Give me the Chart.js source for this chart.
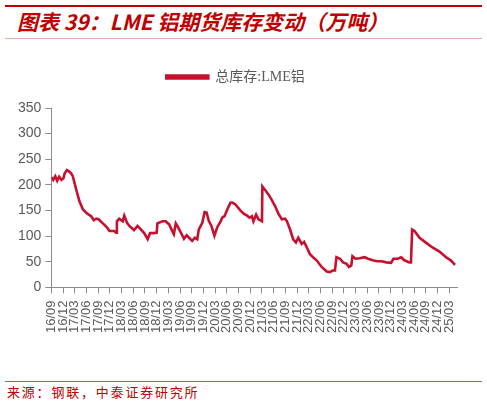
<!DOCTYPE html>
<html>
<head>
<meta charset="utf-8">
<script src="https://cdn.jsdelivr.net/npm/chart.js@4.4.1/dist/chart.umd.min.js"></script>
<style>
  html, body { margin: 0; padding: 0; background: #ffffff; }
  body { width: 487px; height: 404px; position: relative; overflow: hidden; }
  .topbar { position: absolute; left: 5px; top: 5px; width: 477px; height: 2px; background: #c00000; }
  .title { position: absolute; left: 17px; top: 9px; font-family: "Noto Sans CJK SC", sans-serif; font-weight: bold; font-style: italic; font-size: 21px; line-height: 25px; color: #c00000; white-space: nowrap; }
  .titleline { position: absolute; left: 5px; top: 38px; width: 477px; height: 1px; background: #e8a8a8; }
  .srcline { position: absolute; left: 5px; top: 381px; width: 477px; height: 1px; background: #d85050; }
  .source { position: absolute; left: 7px; top: 384px; font-family: "Noto Sans CJK SC", sans-serif; font-size: 13px; line-height: 16px; letter-spacing: 1.8px; color: #c00000; white-space: nowrap; }
  .wrap { position: absolute; left: 0; top: 40px; width: 487px; height: 310px; }
</style>
</head>
<body>
<div class="topbar"></div>
<div class="title">图表 39：LME 铝期货库存变动（万吨）</div>
<div class="titleline"></div>
<div class="wrap"><canvas id="c"></canvas></div>
<div class="srcline"></div>
<div class="source">来源：钢联，中泰证券研究所</div>
<script>
// months since 2016/09
const monthIdx = [0,0.5,1.0,1.5,2.0,2.6,3.1,3.4,4.0,4.6,5.1,5.5,6.4,7.2,8.1,9.2,10.2,10.9,11.5,12.1,13.2,14.3,14.9,16.1,16.6,16.8,17.4,18.3,18.7,19.4,20.0,21.2,22.1,23.0,23.8,24.7,25.3,26.3,27.0,27.2,28.5,29.3,30.2,31.0,31.4,31.9,32.3,33.2,34.0,34.7,35.3,36.1,36.8,37.4,37.8,38.7,39.3,39.8,40.4,41.0,41.8,42.5,43.4,43.8,44.4,45.1,45.9,46.3,47.2,48.5,49.3,50.2,50.8,51.4,51.8,52.5,53.1,54.0,54.1,54.8,55.7,56.5,57.4,58.2,59.1,59.9,60.4,61.2,62.0,62.7,63.3,64.2,64.8,65.5,66.3,67.1,68.0,69.3,70.6,71.4,72.1,72.7,73.1,74.0,74.8,75.7,76.3,76.9,77.2,78.0,79.1,80.3,81.2,82.4,83.5,84.6,85.9,87.1,87.7,88.8,89.7,90.5,91.8,92.2,92.5,93.1,94.4,96.1,97.7,99.5,101.2,102.4,103.5];
// total stock, 10k tonnes
const stockWan = [215,210,217,208,216,210,213,222,229,226,222,217,190,168,152,144,139,131,134,133,125,117,110,110,107,129,134,129,140,126,120,112,120,113,106,94,106,106,107,125,129,129,123,110,104,125,120,107,95,102,97,91,97,94,113,126,147,146,129,121,101,117,129,136,139,152,165,166,162,150,144,140,136,139,129,142,133,129,197,190,181,171,158,144,133,134,129,113,94,88,97,85,89,78,65,59,53,40,31,30,33,33,59,56,49,46,40,43,61,56,57,59,56,53,51,51,49,48,56,56,59,53,49,49,113,110,97,87,78,70,59,53,44];
const tickLabels = ['16/09','16/12','17/03','17/06','17/09','17/12','18/03','18/06','18/09','18/12','19/03','19/06','19/09','19/12','20/03','20/06','20/09','20/12','21/03','21/06','21/09','21/12','22/03','22/06','22/09','22/12','23/03','23/06','23/09','23/12','24/03','24/06','24/09','24/12','25/03'];
const seriesName = '总库存:LME铝';

const points = monthIdx.map((m, i) => ({ x: m, y: stockWan[i] }));
const RED = '#c8102e';
const AXIS = '#8c8c8c';
const TXT = '#595959';

const legendSpace = {
  id: 'legendSpace',
  beforeInit(chart) {
    const orig = chart.legend.fit;
    chart.legend.fit = function () { orig.call(this); this.height += 14; };
  }
};

new Chart(document.getElementById('c'), {
  type: 'line',
  data: { datasets: [{ label: seriesName, data: points, borderColor: RED, backgroundColor: RED, borderWidth: 2.6, pointRadius: 0, tension: 0 }] },
  options: {
    responsive: true, maintainAspectRatio: false, animation: false,
    layout: { padding: { left: 14, right: 30, top: 20, bottom: 10 } },
    plugins: {
      legend: { position: 'top', labels: { boxWidth: 42, boxHeight: 3, color: TXT, font: { size: 14, family: '"Liberation Serif", "Noto Sans CJK SC", serif' } } },
      tooltip: { enabled: false }
    },
    scales: {
      x: {
        type: 'linear', min: 0, max: 104,
        grid: { display: true, drawOnChartArea: false, drawTicks: true, tickLength: 6, color: AXIS },
        border: { color: AXIS, width: 1 },
        ticks: { stepSize: 3, autoSkip: false, includeBounds: false, minRotation: 90, maxRotation: 90, padding: 7, color: TXT, font: { size: 13, family: '"Liberation Sans", Arial, sans-serif' },
          callback: (v) => { const k = Math.round(v / 3); return (Math.abs(v - k * 3) < 1e-6 && tickLabels[k]) ? tickLabels[k] : ''; } }
      },
      y: {
        min: 0, max: 350,
        grid: { display: true, drawOnChartArea: false, drawTicks: true, tickLength: 6, color: AXIS },
        border: { color: AXIS, width: 1 },
        ticks: { stepSize: 50, padding: 4, color: TXT, font: { size: 14, family: '"Liberation Sans", Arial, sans-serif' } }
      }
    }
  },
  plugins: [legendSpace]
});
</script>
</body>
</html>
